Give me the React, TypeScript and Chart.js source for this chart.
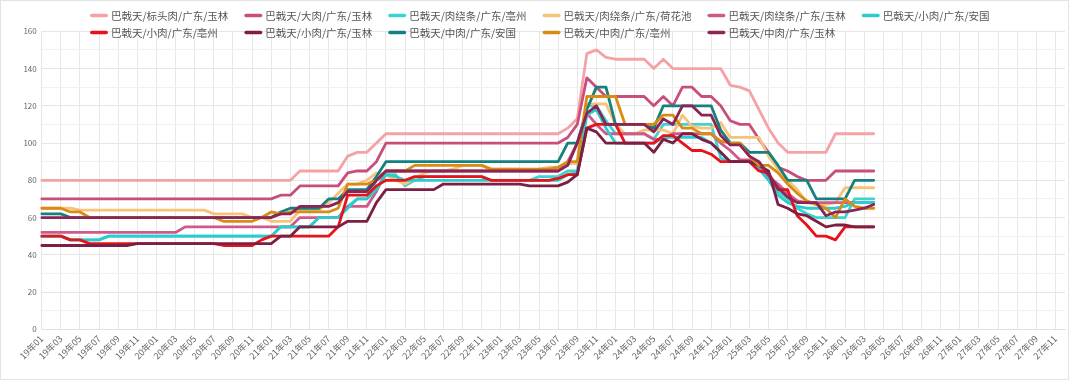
import React, { useEffect, useRef } from 'react';
import { Chart, registerables } from 'chart.js';

Chart.register(...registerables);

const FONT = '"Noto Sans CJK SC", "Noto Sans", sans-serif';

const YEARS = ['19', '20', '21', '22', '23', '24', '25', '26', '27'];
const MONTHS = ['01', '02', '03', '04', '05', '06', '07', '08', '09', '10', '11', '12'];
const LABELS: string[] = YEARS.flatMap((y) => MONTHS.map((m) => `${y}年${m}`));

const NAMES = [
  '巴戟天/标头肉/广东/玉林',
  '巴戟天/大肉/广东/玉林',
  '巴戟天/肉绕条/广东/亳州',
  '巴戟天/肉绕条/广东/荷花池',
  '巴戟天/肉绕条/广东/玉林',
  '巴戟天/小肉/广东/安国',
  '巴戟天/小肉/广东/亳州',
  '巴戟天/小肉/广东/玉林',
  '巴戟天/中肉/广东/安国',
  '巴戟天/中肉/广东/亳州',
  '巴戟天/中肉/广东/玉林',
];

const COLORS = [
  '#F4A2A6',
  '#C84F7C',
  '#3ED3D3',
  '#F7C27A',
  '#D0598A',
  '#2CCBCE',
  '#E8121B',
  '#7C1F42',
  '#16807F',
  '#D88C16',
  '#8C2454',
];

const biaoTouRouYulin = [
  80, 80, 80, 80, 80, 80, 80, 80, 80, 80, 80, 80,
  80, 80, 80, 80, 80, 80, 80, 80, 80, 80, 80, 80,
  80, 80, 80, 85, 85, 85, 85, 85, 93, 95, 95, 100,
  105, 105, 105, 105, 105, 105, 105, 105, 105, 105, 105, 105,
  105, 105, 105, 105, 105, 105, 105, 108, 113, 148, 150, 146,
  145, 145, 145, 145, 140, 145, 140, 140, 140, 140, 140, 140,
  131, 130, 128, 118, 108, 100, 95, 95, 95, 95, 95, 105,
  105, 105, 105, 105,
];

const daRouYulin = [
  70, 70, 70, 70, 70, 70, 70, 70, 70, 70, 70, 70,
  70, 70, 70, 70, 70, 70, 70, 70, 70, 70, 70, 70,
  70, 72, 72, 77, 77, 77, 77, 77, 84, 85, 85, 90,
  100, 100, 100, 100, 100, 100, 100, 100, 100, 100, 100, 100,
  100, 100, 100, 100, 100, 100, 100, 103, 110, 135, 130, 125,
  125, 125, 125, 125, 120, 125, 120, 130, 130, 125, 125, 120,
  112, 110, 110, 102, 95, 87, 85, 82, 80, 80, 80, 85,
  85, 85, 85, 85,
];

const rouRaoTiaoBozhou = [
  50, 50, 50, 48, 48, 48, 48, 50, 50, 50, 50, 50,
  50, 50, 50, 50, 50, 50, 50, 50, 50, 50, 50, 50,
  50, 55, 55, 55, 55, 60, 60, 60, 66, 70, 70, 80,
  83, 83, 77, 80, 82, 82, 82, 82, 82, 82, 82, 80,
  80, 80, 80, 80, 82, 82, 82, 85, 85, 120, 120, 112,
  105, 105, 105, 105, 102, 110, 110, 110, 110, 110, 110, 92,
  90, 90, 90, 88, 82, 74, 70, 65, 62, 60, 60, 60,
  60, 70, 70, 70,
];

const rouRaoTiaoHehuachi = [
  65, 65, 65, 65, 64, 64, 64, 64, 64, 64, 64, 64,
  64, 64, 64, 64, 64, 64, 62, 62, 62, 62, 60, 60,
  58, 58, 58, 64, 64, 64, 68, 73, 78, 78, 80, 84,
  83, 80, 78, 81, 84, 85, 85, 86, 88, 88, 88, 86,
  86, 86, 86, 85, 86, 87, 87, 89, 89, 121, 121, 121,
  110, 105, 105, 107, 107, 107, 105, 115, 109, 108, 108, 111,
  103, 103, 103, 103, 93, 86, 80, 75, 68, 67, 67, 68,
  76, 76, 76, 76,
];

const rouRaoTiaoYulin = [
  52, 52, 52, 52, 52, 52, 52, 52, 52, 52, 52, 52,
  52, 52, 52, 55, 55, 55, 55, 55, 55, 55, 55, 55,
  55, 55, 55, 60, 60, 60, 60, 60, 66, 66, 66, 74,
  85, 85, 85, 85, 85, 85, 85, 85, 85, 85, 85, 85,
  85, 85, 85, 85, 85, 85, 85, 90, 100, 116, 110, 105,
  105, 105, 105, 105, 102, 102, 105, 105, 105, 105, 105, 100,
  96, 91, 91, 88, 82, 78, 73, 69, 68, 68, 68, 68,
  68, 68, 68, 68,
];

const xiaoRouAnguo = [
  50, 50, 50, 48, 48, 48, 48, 50, 50, 50, 50, 50,
  50, 50, 50, 50, 50, 50, 50, 50, 50, 50, 50, 50,
  50, 55, 55, 55, 55, 60, 60, 60, 65, 70, 70, 75,
  83, 82, 80, 80, 80, 80, 80, 80, 80, 80, 80, 80,
  80, 80, 80, 80, 80, 80, 80, 83, 84, 115, 118, 108,
  100, 100, 100, 100, 100, 103, 103, 103, 103, 103, 100, 95,
  90, 90, 90, 86, 80, 72, 68, 66, 65, 65, 65, 65,
  66, 68, 68, 68,
];

const xiaoRouBozhou = [
  50, 50, 50, 48, 48, 46, 46, 46, 46, 46, 46, 46,
  46, 46, 46, 46, 46, 46, 46, 45, 45, 45, 45, 48,
  50, 50, 50, 50, 50, 50, 50, 55, 72, 72, 72, 77,
  80, 80, 80, 82, 82, 82, 82, 82, 82, 82, 82, 80,
  80, 80, 80, 80, 80, 80, 81, 83, 83, 108, 110, 110,
  110, 100, 100, 100, 100, 104, 104, 100, 96, 96, 94, 90,
  90, 90, 90, 85, 84, 75, 75, 61, 56, 50, 50, 48,
  55, 55, 55, 55,
];

const xiaoRouYulin = [
  45, 45, 45, 45, 45, 45, 45, 45, 45, 45, 46, 46,
  46, 46, 46, 46, 46, 46, 46, 46, 46, 46, 46, 46,
  46, 50, 50, 55, 55, 55, 55, 55, 58, 58, 58, 68,
  75, 75, 75, 75, 75, 75, 78, 78, 78, 78, 78, 78,
  78, 78, 78, 77, 77, 77, 77, 79, 83, 108, 106, 100,
  100, 100, 100, 100, 95, 102, 100, 105, 105, 102, 100, 95,
  90, 90, 90, 88, 85, 67, 65, 62, 61, 58, 55, 56,
  56, 55, 55, 55,
];

const zhongRouAnguo = [
  62, 62, 62, 60, 60, 60, 60, 60, 60, 60, 60, 60,
  60, 60, 60, 60, 60, 60, 60, 60, 60, 60, 60, 60,
  60, 63, 65, 65, 65, 65, 70, 70, 75, 75, 75, 82,
  90, 90, 90, 90, 90, 90, 90, 90, 90, 90, 90, 90,
  90, 90, 90, 90, 90, 90, 90, 100, 100, 118, 130, 130,
  110, 110, 110, 110, 108, 120, 120, 120, 120, 120, 120, 107,
  100, 100, 95, 95, 95, 88, 80, 80, 80, 70, 70, 70,
  70, 80, 80, 80,
];

const zhongRouBozhou = [
  65, 65, 65, 63, 63, 60, 60, 60, 60, 60, 60, 60,
  60, 60, 60, 60, 60, 60, 60, 58, 58, 58, 58, 60,
  63, 62, 63, 63, 63, 63, 63, 65, 78, 78, 78, 80,
  85, 85, 85, 88, 88, 88, 88, 88, 88, 88, 88, 86,
  86, 86, 86, 86, 86, 86, 87, 90, 90, 125, 125, 125,
  125, 110, 110, 110, 110, 115, 115, 108, 108, 105, 105, 101,
  100, 100, 93, 88, 88, 84, 78, 73, 69, 67, 65, 60,
  70, 66, 65, 65,
];

const zhongRouYulin = [
  60, 60, 60, 60, 60, 60, 60, 60, 60, 60, 60, 60,
  60, 60, 60, 60, 60, 60, 60, 60, 60, 60, 60, 60,
  60, 62, 62, 66, 66, 66, 66, 68, 74, 74, 74, 80,
  85, 85, 85, 85, 85, 85, 85, 85, 85, 85, 85, 85,
  85, 85, 85, 85, 85, 85, 85, 88, 100, 116, 120, 110,
  110, 110, 110, 110, 106, 113, 110, 120, 120, 115, 115, 104,
  99, 99, 93, 90, 83, 76, 71, 68, 68, 68, 61, 63,
  63, 64, 65, 67,
];

const SERIES = [
  biaoTouRouYulin,
  daRouYulin,
  rouRaoTiaoBozhou,
  rouRaoTiaoHehuachi,
  rouRaoTiaoYulin,
  xiaoRouAnguo,
  xiaoRouBozhou,
  xiaoRouYulin,
  zhongRouAnguo,
  zhongRouBozhou,
  zhongRouYulin,
];

const gridLegend = {
  id: 'gridLegend',
  afterDraw(chart: any) {
    const ctx = chart.ctx as CanvasRenderingContext2D;
    const items = chart.data.datasets as any[];
    const perRow = 6;
    const startX = 90;
    const rowY = [15.5, 32.5];
    const markerW = 18;
    const markerH = 3.6;
    const textGap = 3;
    const colGap = 16;
    ctx.save();
    ctx.font = `10.5px ${FONT}`;
    const widths = items.map((d) => ctx.measureText(d.label).width);
    const colW: number[] = [];
    for (let c = 0; c < perRow; c++) {
      let m = 0;
      for (let k = c; k < items.length; k += perRow) m = Math.max(m, widths[k]);
      colW.push(m);
    }
    items.forEach((d, k) => {
      const c = k % perRow;
      const r = Math.floor(k / perRow);
      let x = startX;
      for (let j = 0; j < c; j++) x += markerW + textGap + colW[j] + colGap;
      const y = rowY[r];
      ctx.fillStyle = d.borderColor;
      ctx.beginPath();
      if ((ctx as any).roundRect) {
        (ctx as any).roundRect(x, y - markerH / 2, markerW, markerH, markerH / 2);
      } else {
        ctx.rect(x, y - markerH / 2, markerW, markerH);
      }
      ctx.fill();
      ctx.fillStyle = '#555555';
      ctx.textBaseline = 'middle';
      ctx.textAlign = 'left';
      ctx.fillText(d.label, x + markerW + textGap, y + 0.5);
    });
    ctx.restore();
  },
};

export default function App() {
  const ref = useRef<HTMLCanvasElement>(null);

  useEffect(() => {
    document.body.style.margin = '0';
    Chart.defaults.font.family = FONT;
    const canvas = ref.current;
    if (!canvas) return;
    const chart = new Chart(canvas, {
      type: 'line',
      data: {
        labels: LABELS,
        datasets: SERIES.map((s, k) => ({
          label: NAMES[k],
          data: s,
          borderColor: COLORS[k],
          backgroundColor: COLORS[k],
          borderWidth: 2.8,
          pointRadius: 0,
          pointHoverRadius: 0,
          tension: 0,
          fill: false,
          order: -k,
          borderJoinStyle: 'round',
          borderCapStyle: 'round',
        })),
      },
      options: {
        responsive: false,
        animation: false,
        layout: { padding: { top: 31.3, right: 15, left: 0, bottom: 0 } },
        plugins: {
          legend: { display: false },
          tooltip: { enabled: false },
        },
        scales: {
          x: {
            type: 'category',
            offset: false,
            grid: {
              color: (c: any) => (c.index % 2 === 0 ? '#e8e8e8' : 'rgba(0,0,0,0)'),
              drawTicks: false,
              lineWidth: 1,
            },
            border: { display: true, color: '#e0e0e0' },
            ticks: {
              autoSkip: false,
              minRotation: 45,
              maxRotation: 45,
              padding: 4,
              color: '#666666',
              font: { size: 9, family: FONT },
              callback: (_v: any, i: number) => (i % 2 === 0 ? LABELS[i] : ''),
            },
            afterFit: (s: any) => {
              s.height = 54.7;
            },
          },
          y: {
            min: 0,
            max: 160,
            ticks: {
              stepSize: 10,
              padding: 5,
              color: '#666666',
              font: { size: 8, family: FONT },
              callback: (v: any) => (Number(v) % 20 === 0 ? v : ''),
            },
            grid: {
              color: (c: any) => (c.tick && c.tick.value % 20 === 0 ? '#e6e6e6' : '#f1f1f1'),
              drawTicks: false,
            },
            border: { display: true, color: '#e6e6e6' },
            afterFit: (s: any) => {
              s.width = 41.7;
            },
          },
        },
      },
      plugins: [gridLegend],
    } as any);
    return () => chart.destroy();
  }, []);

  return (
    <div style={{ position: 'relative', width: 1080, height: 384, background: '#ffffff' }}>
      <canvas
        ref={ref}
        width={1080}
        height={384}
        style={{ position: 'absolute', left: 0, top: 0, display: 'block' }}
      />
      <div
        style={{
          position: 'absolute',
          left: 0,
          top: 0,
          width: 1067,
          height: 378,
          border: '1px solid #e3e3e3',
          pointerEvents: 'none',
        }}
      />
    </div>
  );
}
